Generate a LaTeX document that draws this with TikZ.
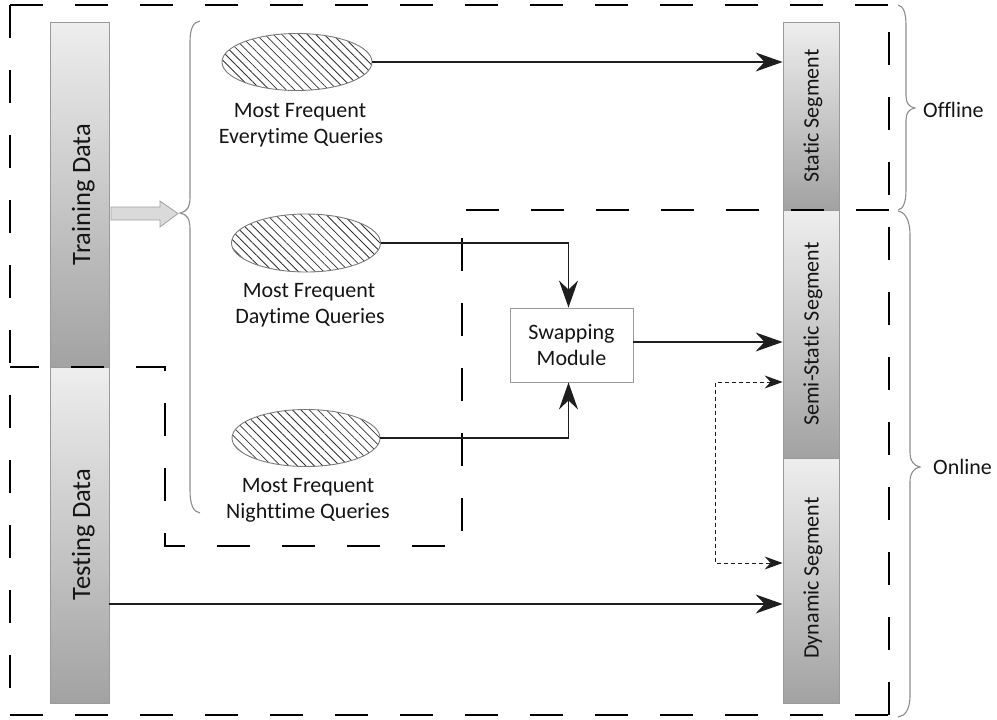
\documentclass[tikz,border=0pt]{standalone}
\usepackage{fontspec}
\setmainfont{Carlito}[Ligatures={NoCommon}]
\usetikzlibrary{shapes.geometric,arrows.meta,patterns.meta,calc}
\definecolor{ink}{HTML}{151515}
\definecolor{lineC}{HTML}{1E1E1E}
\definecolor{barline}{HTML}{9A9A9A}
\definecolor{bartop}{HTML}{EEEEEE}
\definecolor{barbot}{HTML}{A2A2A2}
\definecolor{ellline}{HTML}{7A7A7A}
\definecolor{hatchc}{HTML}{333333}
\definecolor{braceC}{HTML}{8C8C8C}
\definecolor{blockfill}{HTML}{DADADA}
\definecolor{blockline}{HTML}{A0A0A0}
\begin{document}
\begin{tikzpicture}[x=1pt,y=-1pt,
  bar/.style={draw=barline, line width=0.8pt, top color=bartop, bottom color=barbot, minimum width=59pt, inner sep=0pt},
  seg/.style={bar, minimum width=56pt},
  barlbl/.style={rotate=90, anchor=base, inner sep=0pt, font=\fontsize{26.5}{31}\selectfont, text=ink},
  seglbl/.style={rotate=90, anchor=base, inner sep=0pt, font=\fontsize{22}{26}\selectfont, text=ink},
  hatch/.style={ellipse, draw=ellline, line width=0.9pt, pattern={Lines[angle=-45,distance=6pt,line width=0.8pt]}, pattern color=hatchc, inner sep=0pt},
  lbl/.style={anchor=base, inner sep=0pt, font=\fontsize{22}{26}\selectfont, text=ink},
  swapbox/.style={draw=barline, line width=0.9pt, fill=white, minimum width=123pt, minimum height=74pt, align=center, inner sep=0pt, font=\fontsize{22}{26}\selectfont, text=ink},
  arr/.style={draw=lineC, line width=1.3pt, -{Stealth[length=27pt,width=19pt,inset=9pt]}},
  darr/.style={draw=lineC, line width=1pt, dash pattern=on 4pt off 3pt, {Stealth[length=18pt,width=13pt,inset=6pt]}-{Stealth[length=18pt,width=13pt,inset=6pt]}},
  bigdash/.style={draw=black, line width=1.3pt, dash pattern=on 33pt off 32pt},
  bracestyle/.style={draw=braceC, line width=1.1pt},
  blockarrow/.style={fill=blockfill, draw=blockline, line width=0.8pt}
]
\useasboundingbox (0,0) rectangle (997,720);

% bars
\node[bar, minimum height=345pt] (train) at (79.5,194.5) {};
\node[bar, minimum height=336pt] (test) at (79.5,535) {};
\node[barlbl] (trainlbl) at (90,194.5) {Training Data};
\node[barlbl] (testlbl) at (90,534.5) {Testing Data};

% segments
\node[seg, minimum height=188pt] (stat) at (811,116) {};
\node[seg, minimum height=248pt] (semi) at (811,334) {};
\node[seg, minimum height=245pt] (dyn) at (811,580.5) {};
\node[seglbl] (statlbl) at (818.5,116) {Static Segment};
\node[seglbl] (semilbl) at (818.5,334) {Semi-Static Segment};
\node[seglbl] (dynlbl) at (818.5,578) {Dynamic Segment};

% ellipses
\node[hatch, minimum width=150pt, minimum height=57pt] (e1) at (297,62) {};
\node[hatch, minimum width=149pt, minimum height=58pt] (e2) at (306,243) {};
\node[hatch, minimum width=148pt, minimum height=57pt] (e3) at (306,438) {};
\node[lbl] (e1a) at (300,117) {Most Frequent};
\node[lbl] (e1b) at (301,143) {Everytime Queries};
\node[lbl] (e2a) at (309,297) {Most Frequent};
\node[lbl] (e2b) at (310,323) {Daytime Queries};
\node[lbl] (e3a) at (308,492) {Most Frequent};
\node[lbl] (e3b) at (308,518) {Nighttime Queries};

% swapping module
\node[swapbox] (swap) at (571.5,345) {Swapping\\Module};

% dashed regions
\draw[bigdash] (10,5) -- (889,5);
\draw[bigdash] (10,5) -- (10,715);
\draw[bigdash] (10,715) -- (889,715);
\draw[bigdash] (889,715) -- (889,5);
\draw[bigdash] (889,210) -- (462,210) -- (462,546) -- (165,546) -- (165,367) -- (10,367);

% braces
\draw[bracestyle] (200,21) .. controls (193,22) and (190,29) .. (190,42) -- (190,197) .. controls (190,207) and (187,212) .. (180,213) .. controls (187,214) and (190,219) .. (190,229) -- (190,490) .. controls (190,504) and (193,512) .. (200,513);
\draw[bracestyle] (898,5) .. controls (903,6) and (906,12) .. (906,25) -- (906,96) .. controls (906,103) and (909,107) .. (915,108) .. controls (909,109) and (906,113) .. (906,120) -- (906,190) .. controls (906,203) and (903,209) .. (898,210);
\draw[bracestyle] (898,211) .. controls (905,212) and (910,220) .. (910,235) -- (910,452) .. controls (910,461) and (914,466) .. (920,467) .. controls (914,468) and (910,473) .. (910,482) -- (910,695) .. controls (910,710) and (905,716) .. (898,717);
\node[lbl, anchor=base west] (offl) at (923,117) {Offline};
\node[lbl, anchor=base west] (onl) at (933,474) {Online};

% block arrow from training data to brace
\draw[blockarrow] (111,207) -- (160,207) -- (160,201) -- (178,213.5) -- (160,227) -- (160,220) -- (111,220) -- cycle;

% connectors
\draw[arr] (e1.east) -- (e1.east -| stat.west);
\draw[arr] (e2.east) -| ([xshift=-3pt]swap.north);
\draw[arr] (e3.east) -| ([xshift=-3pt]swap.south);
\draw[arr] ([yshift=3pt]swap.east) -- ([yshift=3pt]swap.east -| semi.west);
\draw[arr] ([yshift=-69pt]test.east) -- ([yshift=-69pt]test.east -| dyn.west);
\draw[darr] ([yshift=-48pt]semi.west) -- ++(-67,0) |- ([yshift=17.5pt]dyn.west);
\end{tikzpicture}
\end{document}
